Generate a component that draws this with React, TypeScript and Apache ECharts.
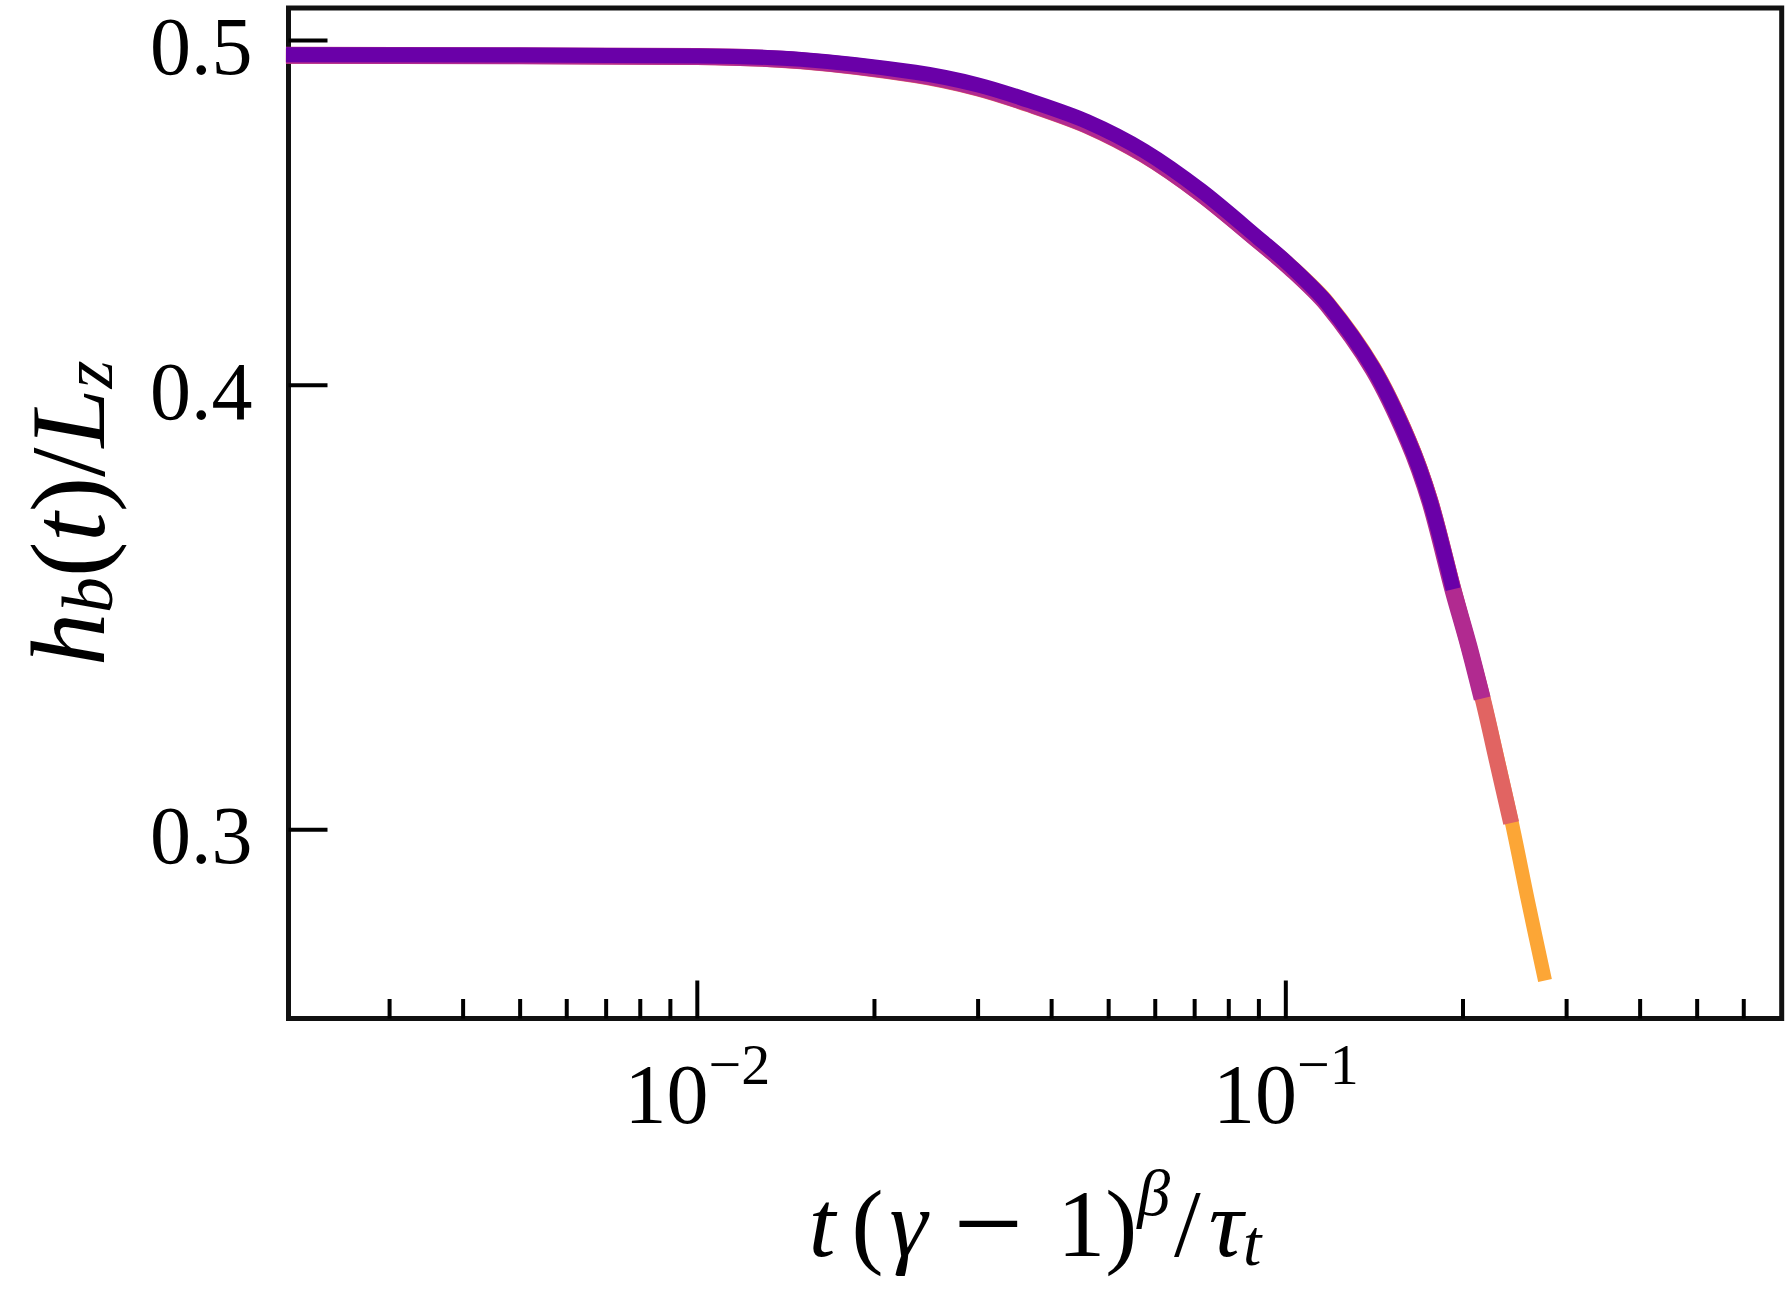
import React, { useEffect, useRef } from 'react';
import * as echarts from 'echarts';

const FONT = "'Liberation Serif', 'Times New Roman', Times, serif";

// axis ranges (log scales)
const X_MIN = 0.00202;
const X_MAX = 0.696;
const Y_MIN = 0.2655;
const Y_MAX = 0.5106;

// common abscissae of the collapsed curves, t(γ-1)^β/τ_t
const xCommon = [0.002, 0.01, 0.01502, 0.02346, 0.03001, 0.03677, 0.04598, 0.05744, 0.0718, 0.08974, 0.1017, 0.1176, 0.1407, 0.1614, 0.1759, 0.1924];

// h_b(t)/L_z for each run
const xPurple = xCommon;
const hPurple = [0.4954, 0.495, 0.4939, 0.4898, 0.4858, 0.4808, 0.4744, 0.4655, 0.4537, 0.44, 0.4322, 0.4218, 0.4044, 0.386, 0.371, 0.3505];

const xMagenta = [...xCommon, 0.2045, 0.2156];
const hMagenta = [0.4952, 0.4948, 0.4935, 0.4892, 0.485, 0.4799, 0.4734, 0.4645, 0.4528, 0.4393, 0.4316, 0.4214, 0.4041, 0.3858, 0.3708, 0.3503, 0.338, 0.3266];

const xRed = [...xCommon, 0.2156, 0.229, 0.2415];
const hRed = [0.4951, 0.4947, 0.4933, 0.4889, 0.4847, 0.4796, 0.4731, 0.4642, 0.4526, 0.4392, 0.4316, 0.4215, 0.4043, 0.3861, 0.3712, 0.3507, 0.327, 0.3131, 0.3013];

const xOrange = [...xCommon, 0.2156, 0.2415, 0.258, 0.2757];
const hOrange = [0.4952, 0.4948, 0.4934, 0.489, 0.4848, 0.4798, 0.4734, 0.4646, 0.4531, 0.4399, 0.4324, 0.4223, 0.4051, 0.3869, 0.3719, 0.3514, 0.3276, 0.302, 0.2864, 0.2721];

// ticks
const xMajorTicks = [0.01, 0.1];
const xMinorTicks = [0.003, 0.004, 0.005, 0.006, 0.007, 0.008, 0.009, 0.02, 0.03, 0.04, 0.05, 0.06, 0.07, 0.08, 0.09, 0.2, 0.3, 0.4, 0.5, 0.6];
const yTicks = [0.3, 0.4, 0.5];
const yTickLabels = ['0.3', '0.4', '0.5'];

const zip = (xs: number[], ys: number[]) => xs.map((x, i) => [x, ys[i]]);

const lineSeries = (name: string, xs: number[], ys: number[], color: string, width: number) => ({
  name,
  type: 'line',
  data: zip(xs, ys),
  showSymbol: false,
  symbol: 'none',
  smooth: 0.3,
  lineStyle: { color, width, cap: 'butt', join: 'round' },
  silent: true,
});

const TF = 96; // x title font size
const richX = {
  i: { fontFamily: FONT, fontStyle: 'italic', fontSize: TF, color: '#000' },
  it: { fontFamily: FONT, fontStyle: 'italic', fontSize: TF, color: '#000', padding: [0, 16, 0, 0] },
  ig: { fontFamily: FONT, fontStyle: 'italic', fontSize: TF, color: '#000', padding: [0, 10, 0, 6] },
  n: { fontFamily: FONT, fontSize: TF, color: '#000' },
  ns: { fontFamily: FONT, fontSize: TF, color: '#000', padding: [0, 8, 0, 2] },
  m: { fontFamily: FONT, fontSize: 124, color: '#000', padding: [0, 34, 0, 16] },
  sup: { fontFamily: FONT, fontStyle: 'italic', fontSize: 66, color: '#000', padding: [0, 2, 62, 0] },
  sub: { fontFamily: FONT, fontStyle: 'italic', fontSize: 66, color: '#000', padding: [38, 0, 0, 0] },
};

const YF = 106; // y title font size
const richY = {
  i: { fontFamily: FONT, fontStyle: 'italic', fontSize: YF, color: '#000' },
  n: { fontFamily: FONT, fontSize: YF, color: '#000' },
  sub: { fontFamily: FONT, fontStyle: 'italic', fontSize: 72, color: '#000', padding: [38, 0, 0, 0] },
};

export default function App() {
  const ref = useRef<HTMLDivElement>(null);
  useEffect(() => {
    if (!ref.current) return;
    const chart = echarts.init(ref.current, undefined, { renderer: 'svg' });
    const option: any = {
      animation: false,
      backgroundColor: '#fff',
      grid: {
        left: 288.5,
        right: 9.3,
        top: 8,
        bottom: 296.5,
        containLabel: false,
        outerBoundsMode: 'none',
        show: true,
        borderColor: '#111',
        borderWidth: 5,
        backgroundColor: 'transparent',
      },
      xAxis: {
        type: 'log',
        logBase: 10,
        min: X_MIN,
        max: X_MAX,
        axisLine: { show: false },
        axisTick: { show: false },
        splitLine: { show: false },
        axisLabel: {
          showMinLabel: false,
          showMaxLabel: false,
          fontFamily: FONT,
          fontSize: 84,
          color: '#000',
          lineHeight: 120,
          margin: 16,
          formatter: (v: number) => {
            const e = Math.log10(v);
            const r = Math.round(e);
            if (Math.abs(e - r) > 1e-6) return '';
            return `10{sup|${r < 0 ? '\u2212' : ''}${Math.abs(r)}}`;
          },
          rich: {
            sup: { fontFamily: FONT, fontSize: 58, color: '#000', padding: [0, 0, 60, 0] },
          },
        },
        name: '{it|t}{n|(}{ig|γ}{m|\u2212}{n|1)}{sup|β}{ns|/}{i|τ}{sub|t}',
        nameLocation: 'middle',
        nameGap: 144,
        nameTextStyle: { fontFamily: FONT, fontSize: TF, color: '#000', lineHeight: 120, rich: richX },
      },
      yAxis: {
        type: 'log',
        logBase: 10,
        min: Y_MIN,
        max: Y_MAX,
        axisLine: { show: false },
        axisTick: { show: false },
        axisLabel: { show: false },
        splitLine: { show: false },
        name: '{i|h}{sub|b}{n|(}{i|t}{n|)/}{i|L}{sub|z}',
        nameLocation: 'middle',
        nameRotate: 90,
        nameGap: 160,
        nameTextStyle: { fontFamily: FONT, fontSize: YF, color: '#000', lineHeight: 120, rich: richY },
      },
      series: [
        lineSeries('orange', xOrange, hOrange, '#fca636', 14),
        lineSeries('red', xRed, hRed, '#e16462', 16),
        lineSeries('magenta', xMagenta, hMagenta, '#b12a90', 17),
        lineSeries('purple', xPurple, hPurple, '#6a00a8', 15),
        {
          type: 'custom',
          silent: true,
          clip: false,
          data: [...xMajorTicks.map((v) => [v, 0.4, 1]), ...xMinorTicks.map((v) => [v, 0.4, 0])],
          renderItem: (params: any, api: any) => {
            const cs = params.coordSys;
            const x = api.coord([api.value(0), api.value(1)])[0];
            const len = api.value(2) ? 38 : 19.5;
            const yb = cs.y + cs.height;
            return {
              type: 'line',
              shape: { x1: x, y1: yb, x2: x, y2: yb - len },
              style: { stroke: '#000', lineWidth: 4 },
            };
          },
          z: 5,
        },
        {
          type: 'custom',
          silent: true,
          clip: false,
          data: yTicks.map((v, i) => [X_MIN, v, i]),
          renderItem: (params: any, api: any) => {
            const cs = params.coordSys;
            const y = api.coord([api.value(0), api.value(1)])[1];
            return {
              type: 'group',
              children: [
                {
                  type: 'line',
                  shape: { x1: cs.x, y1: y, x2: cs.x + 39, y2: y },
                  style: { stroke: '#000', lineWidth: 4 },
                },
                {
                  type: 'text',
                  x: cs.x - 36,
                  y: y + 6,
                  style: {
                    text: yTickLabels[api.value(2)],
                    font: `82px ${FONT}`,
                    fill: '#000',
                    align: 'right',
                    verticalAlign: 'middle',
                  },
                },
              ],
            };
          },
          z: 5,
        },
      ],
    };
    chart.setOption(option);
    return () => chart.dispose();
  }, []);
  return <div ref={ref} style={{ position: 'absolute', left: 0, top: 0, width: 1791, height: 1315, background: '#fff' }} />;
}
